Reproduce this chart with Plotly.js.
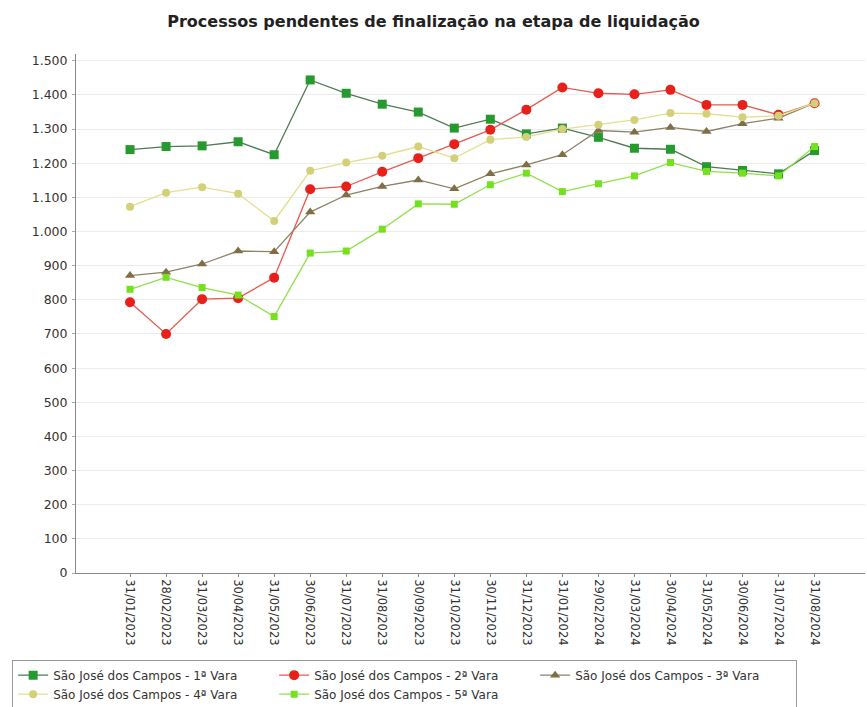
<!DOCTYPE html>
<html>
<head>
<meta charset="utf-8">
<script src="https://cdn.plot.ly/plotly-3.0.1.min.js"></script>
<style>html,body{margin:0;padding:0;background:#fff;}#chart{width:867px;height:707px;}</style>
</head>
<body>
<div id="chart"></div>
<script>
const dates = ["31/01/2023","28/02/2023","31/03/2023","30/04/2023","31/05/2023","30/06/2023","31/07/2023","31/08/2023","30/09/2023","31/10/2023","30/11/2023","31/12/2023","31/01/2024","29/02/2024","31/03/2024","30/04/2024","31/05/2024","30/06/2024","31/07/2024","31/08/2024"];
const vara1 = [1240,1249,1251,1263,1225,1444,1405,1373,1350,1303,1329,1286,1303,1276,1244,1241,1190,1179,1169,1237];
const vara2 = [793,700,802,805,865,1124,1132,1175,1215,1256,1298,1357,1422,1405,1402,1415,1371,1371,1342,1376];
const vara3 = [871,881,905,943,941,1057,1107,1132,1151,1125,1169,1195,1225,1296,1291,1305,1293,1316,1332,1376];
const vara4 = [1073,1114,1130,1111,1031,1178,1202,1222,1249,1215,1269,1277,1300,1313,1327,1347,1345,1335,1339,1376];
const vara5 = [831,866,836,814,751,937,943,1007,1081,1080,1137,1171,1117,1140,1163,1202,1176,1171,1163,1249];
const names = ["São José dos Campos - 1ª Vara","São José dos Campos - 2ª Vara","São José dos Campos - 3ª Vara","São José dos Campos - 4ª Vara","São José dos Campos - 5ª Vara"];

const x = dates.map((d,i)=>i);
function tr(y, name, lineColor, mColor, symbol, size){
  return {x:x, y:y, name:name, type:'scatter', mode:'lines+markers',
    line:{color:lineColor, width:1.3},
    marker:{color:mColor, symbol:symbol, size:size, line:{width:0}}};
}
const data = [
  tr(vara1, names[0], '#4f7a52', '#279a2f', 'square', 9),
  tr(vara2, names[1], '#e85a50', '#e8201a', 'circle', 10),
  tr(vara3, names[2], '#8c8266', '#7f6e46', 'triangle-up', 9),
  tr(vara4, names[3], '#e2e08c', '#d3d07a', 'circle', 8),
  tr(vara5, names[4], '#8ee04a', '#74e01e', 'square', 7)
];
const layout = {
  width:867, height:707,
  margin:{l:76, r:2, t:54, b:134},
  paper_bgcolor:'#fff', plot_bgcolor:'#fff',
  separators:',.',
  font:{family:'DejaVu Sans, sans-serif', size:11, color:'#333'},
  title:{text:'Processos pendentes de finalização na etapa de liquidação', x:0.5, xanchor:'center', y:0.977, yanchor:'top',
    font:{family:'DejaVu Sans, sans-serif', size:16, color:'#222', weight:'bold'}},
  xaxis:{range:[-1.5,20.4], tickmode:'array', tickvals:x, ticktext:dates, tickangle:90,
    showgrid:false, showline:true, linecolor:'#888', linewidth:1, ticks:'outside', ticklen:3, tickcolor:'#888',
    tickfont:{size:11.5, color:'#333'}, zeroline:false, fixedrange:true},
  yaxis:{range:[0,1520], tickmode:'array', tickvals:[0,100,200,300,400,500,600,700,800,900,1000,1100,1200,1300,1400,1500],
    tickformat:',d', showgrid:true, gridcolor:'#ececec', gridwidth:1, showline:true, linecolor:'#888', linewidth:1,
    ticks:'outside', ticklen:3, tickcolor:'#aaa', ticklabelstandoff:2, zeroline:false,
    tickfont:{size:12.5, color:'#333'}},
  showlegend:true,
  legend:{orientation:'h', xref:'container', yref:'container', x:0.014, xanchor:'left', y:0.067, yanchor:'top',
    bordercolor:'#999', borderwidth:1, bgcolor:'#fff', font:{size:12, color:'#333'},
    itemwidth:30, entrywidth:216, tracegroupgap:0, traceorder:'normal'}
};
Plotly.newPlot('chart', data, layout, {displayModeBar:false, staticPlot:true});
</script>
</body>
</html>
